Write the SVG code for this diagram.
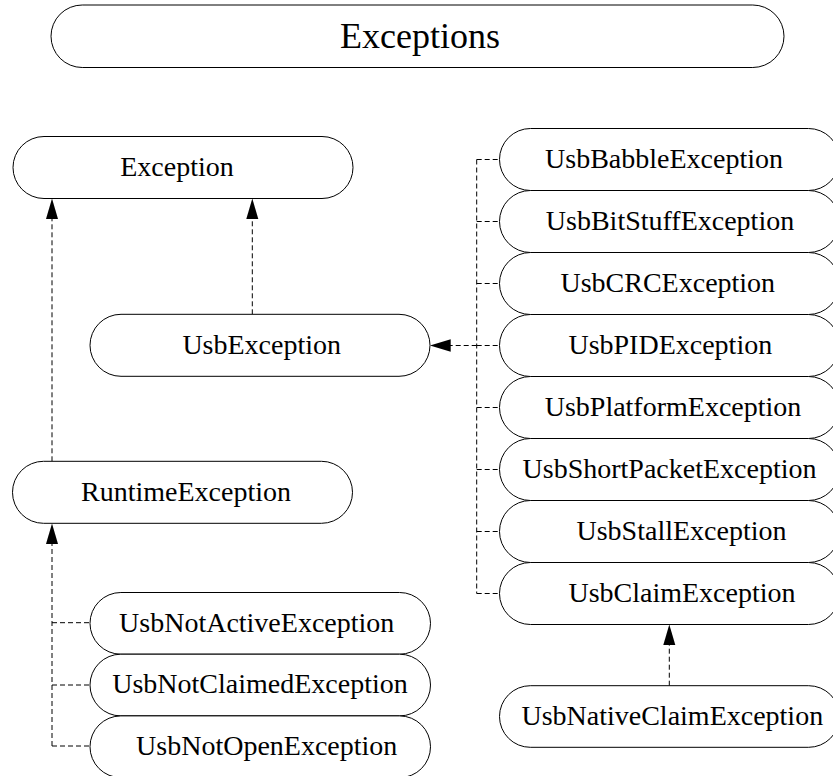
<svg xmlns="http://www.w3.org/2000/svg" width="833" height="776" viewBox="0 0 833 776">
<defs>
<style>
.n{fill:#fff;stroke:#000;stroke-width:1}
.t{font-family:"Liberation Serif","Times New Roman",serif;font-size:28px;fill:#000;text-anchor:middle}
.ttl{font-size:36px}
.c{fill:none;stroke:#000;stroke-width:1;stroke-dasharray:5,3}
.a{fill:#000;stroke:none}
</style>
</defs>
<rect width="833" height="776" fill="#fff"/>
<g id="title">
<rect class="n" x="51" y="5" width="733" height="62.5" rx="31.25"/>
<text class="t ttl" x="420" y="48">Exceptions</text>
</g>
<g id="connectors">
<line class="c" x1="52" y1="461.3" x2="52" y2="218"/>
<polygon class="a" points="52,198.5 46,219 58,219"/>
<line class="c" x1="252.3" y1="314.3" x2="252.3" y2="218"/>
<polygon class="a" points="252.3,198.5 246.3,219 258.3,219"/>
<line class="c" x1="52" y1="746" x2="52" y2="543"/>
<polygon class="a" points="52,523.5 46,544 58,544"/>
<line class="c" x1="52" y1="622.7" x2="90" y2="622.7"/>
<line class="c" x1="52" y1="685" x2="90" y2="685"/>
<line class="c" x1="52" y1="746" x2="90" y2="746"/>
<line class="c" x1="476.7" y1="159.5" x2="476.7" y2="593.5"/>
<line class="c" x1="476.7" y1="159.5" x2="499.5" y2="159.5"/>
<line class="c" x1="476.7" y1="221.5" x2="499.5" y2="221.5"/>
<line class="c" x1="476.7" y1="283.5" x2="499.5" y2="283.5"/>
<line class="c" x1="476.7" y1="345.5" x2="499.5" y2="345.5"/>
<line class="c" x1="476.7" y1="407.5" x2="499.5" y2="407.5"/>
<line class="c" x1="476.7" y1="469.5" x2="499.5" y2="469.5"/>
<line class="c" x1="476.7" y1="531.5" x2="499.5" y2="531.5"/>
<line class="c" x1="476.7" y1="593.5" x2="499.5" y2="593.5"/>
<line class="c" x1="476.7" y1="345.5" x2="450" y2="345.5"/>
<polygon class="a" points="430,345.5 450.7,339.2 450.7,351.8"/>
<line class="c" x1="669.3" y1="685.7" x2="669.3" y2="644"/>
<polygon class="a" points="669.3,624.5 663.3,645 675.3,645"/>
</g>
<g id="Exception">
<rect class="n" x="13" y="136.5" width="340" height="62" rx="31"/>
<text class="t" x="177" y="176">Exception</text>
</g>
<g id="UsbException">
<rect class="n" x="90" y="314.3" width="340" height="62" rx="31"/>
<text class="t" x="261.7" y="353.5">UsbException</text>
</g>
<g id="RuntimeException">
<rect class="n" x="12.5" y="461.3" width="340" height="62" rx="31"/>
<text class="t" x="186" y="500.5">RuntimeException</text>
</g>
<g id="UsbNotActiveException">
<rect class="n" x="90" y="592.5" width="340.5" height="61.7" rx="30.85"/>
<text class="t" x="256.7" y="631.5">UsbNotActiveException</text>
</g>
<g id="UsbNotClaimedException">
<rect class="n" x="90" y="654.2" width="340.5" height="61.7" rx="30.85"/>
<text class="t" x="260" y="693">UsbNotClaimedException</text>
</g>
<g id="UsbNotOpenException">
<rect class="n" x="90" y="715.9" width="340.5" height="61.7" rx="30.85"/>
<text class="t" x="266.7" y="754.5">UsbNotOpenException</text>
</g>
<g id="UsbBabbleException">
<rect class="n" x="499.5" y="128.5" width="340" height="62" rx="31"/>
<text class="t" x="664" y="168">UsbBabbleException</text>
</g>
<g id="UsbBitStuffException">
<rect class="n" x="499.5" y="190.5" width="340" height="62" rx="31"/>
<text class="t" x="670" y="230">UsbBitStuffException</text>
</g>
<g id="UsbCRCException">
<rect class="n" x="499.5" y="252.5" width="340" height="62" rx="31"/>
<text class="t" x="667.8" y="292">UsbCRCException</text>
</g>
<g id="UsbPIDException">
<rect class="n" x="499.5" y="314.5" width="340" height="62" rx="31"/>
<text class="t" x="670.3" y="354">UsbPIDException</text>
</g>
<g id="UsbPlatformException">
<rect class="n" x="499.5" y="376.5" width="340" height="62" rx="31"/>
<text class="t" x="673" y="416">UsbPlatformException</text>
</g>
<g id="UsbShortPacketException">
<rect class="n" x="499.5" y="438.5" width="340" height="62" rx="31"/>
<text class="t" x="669.5" y="478">UsbShortPacketException</text>
</g>
<g id="UsbStallException">
<rect class="n" x="499.5" y="500.5" width="340" height="62" rx="31"/>
<text class="t" x="681.5" y="540">UsbStallException</text>
</g>
<g id="UsbClaimException">
<rect class="n" x="499.5" y="562.5" width="340" height="62" rx="31"/>
<text class="t" x="682" y="602">UsbClaimException</text>
</g>
<g id="UsbNativeClaimException">
<rect class="n" x="499.5" y="685.7" width="340" height="61.6" rx="30.8"/>
<text class="t" x="672.3" y="725">UsbNativeClaimException</text>
</g>
</svg>
